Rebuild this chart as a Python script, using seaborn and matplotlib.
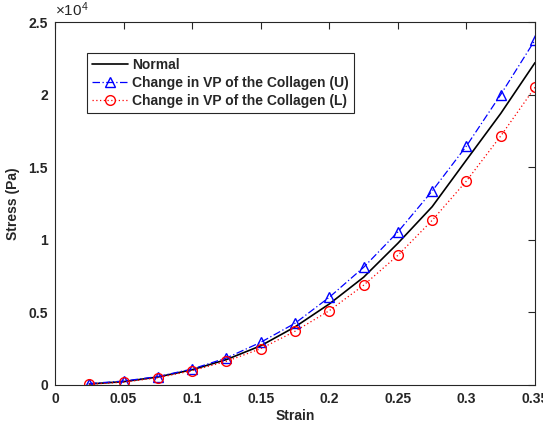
import numpy as np
import pandas as pd
import matplotlib
matplotlib.use("Agg")
import matplotlib.pyplot as plt
import seaborn as sns
from matplotlib.ticker import FuncFormatter

strain = [0.025, 0.05, 0.075, 0.1, 0.125, 0.15, 0.175, 0.2, 0.225, 0.25, 0.275, 0.3, 0.325, 0.35]
normal = [70, 230, 550, 1050, 1750, 2700, 4000, 5580, 7420, 9760, 12280, 15500, 18700, 22200]
upper = [100, 270, 580, 1100, 1860, 2940, 4250, 6040, 8100, 10540, 13360, 16460, 20000, 23760]
lower = [50, 190, 500, 980, 1630, 2500, 3700, 5120, 6870, 8930, 11340, 14050, 17150, 20500]

yticks = [0, 5000, 10000, 15000, 20000, 25000]
ytick_labels = ["0", "0.5", "1", "1.5", "2", "2.5"]
xticks = [0, 0.05, 0.1, 0.15, 0.2, 0.25, 0.3, 0.35]

names = ["Normal", "Change in VP of the Collagen (U)", "Change in VP of the Collagen (L)"]

sns.set_style("white")
plt.rcParams['font.family'] = ['Liberation Sans', 'DejaVu Sans']
plt.rcParams['mathtext.fontset'] = 'custom'
plt.rcParams['mathtext.rm'] = 'Liberation Sans'
plt.rcParams['mathtext.it'] = 'Liberation Sans'

fig = plt.figure(figsize=(5.43, 4.29), dpi=100)
ax = fig.add_axes([0.1013, 0.1026, 0.8840, 0.8461])

df_n = pd.DataFrame({"x": strain, "y": normal})
df_u = pd.DataFrame({"x": strain, "y": upper})
df_l = pd.DataFrame({"x": strain, "y": lower})

sns.lineplot(data=df_n, x="x", y="y", ax=ax, color="black", lw=1.2, label=names[0])
sns.lineplot(data=df_u, x="x", y="y", ax=ax, color="#0000ff", lw=0.9,
             marker="^", markersize=7, markerfacecolor="none", markeredgecolor="#0000ff",
             markeredgewidth=1.0, label=names[1])
ax.lines[-1].set_linestyle((0, (6, 2, 1, 2)))
sns.lineplot(data=df_l, x="x", y="y", ax=ax, color="#ff0000", lw=0.9,
             marker="o", markersize=7, markerfacecolor="none", markeredgecolor="#ff0000",
             markeredgewidth=1.0, label=names[2])
ax.lines[-1].set_linestyle((0, (1, 2)))

ax.set_xlim(0, 0.35)
ax.set_ylim(0, 25000)
ax.set_xticks(xticks)
ax.xaxis.set_major_formatter(FuncFormatter(lambda v, p: "%g" % round(v, 3)))
ax.set_yticks(yticks)
ax.set_yticklabels(ytick_labels)
ax.tick_params(direction="in", length=5, width=0.8, top=True, right=True,
               labelsize=10, colors="#262626", pad=5)
for lab in ax.get_xticklabels() + ax.get_yticklabels():
    lab.set_fontweight("bold")
for sp in ax.spines.values():
    sp.set_color("#262626")
    sp.set_linewidth(0.8)

ax.set_xlabel("Strain", fontsize=10, fontweight="bold", color="#262626", labelpad=2)
ax.set_ylabel("Stress (Pa)", fontsize=10, fontweight="bold", color="#262626", labelpad=6)
ax.text(0.0, 1.008, r"$\times10^{4}$", transform=ax.transAxes, fontsize=11,
        fontweight="normal", ha="left", va="bottom", color="#262626")

leg = ax.legend(loc="upper left", bbox_to_anchor=(0.067, 0.915), borderaxespad=0,
                frameon=True, fancybox=False, edgecolor="#262626", framealpha=1,
                handlelength=2.6, handletextpad=0.3, borderpad=0.35, labelspacing=0.3,
                prop={"weight": "bold", "size": 10})
leg.get_frame().set_linewidth(0.8)

fig.savefig("out.png", dpi=100)
